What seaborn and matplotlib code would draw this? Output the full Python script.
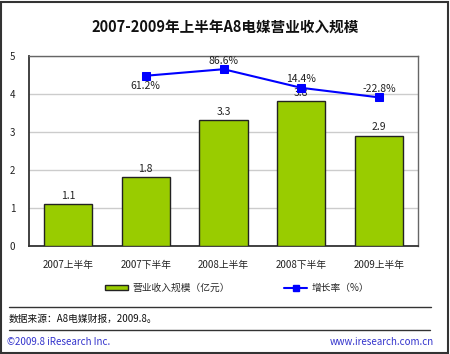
import seaborn as sns
import matplotlib.pyplot as plt
import pandas as pd
from matplotlib.patches import Patch, Rectangle
from matplotlib.lines import Line2D

# dados do gráfico
periodos = ["2007上半年", "2007下半年", "2008上半年", "2008下半年", "2009上半年"]
receita = [1.1, 1.8, 3.3, 3.8, 2.9]          # 营业收入规模（亿元）
crescimento = [None, 61.2, 86.6, 14.4, -22.8]  # 增长率（%）
rotulos_cresc = ["", "61.2%", "86.6%", "14.4%", "-22.8%"]

sns.set_style("white")
plt.rcParams["font.family"] = ["Noto Sans CJK SC", "DejaVu Sans"]

df = pd.DataFrame({"periodo": periodos, "receita": receita,
                   "pos": range(len(periodos)), "cresc": crescimento})

fig = plt.figure(figsize=(4.5, 3.54), dpi=100)
W, H = 450, 354
ax = fig.add_axes([29 / W, 1 - 245.7 / H, 389 / W, 190 / H])

# barras
sns.barplot(data=df, x="periodo", y="receita", color="#99CC00", edgecolor="#222222",
            linewidth=1, width=0.62, saturation=1, ax=ax, zorder=3)
ax.set_xlim(-0.5, 4.5)
ax.set_ylim(0, 5)
ax.set_yticks([0, 1, 2, 3, 4, 5])
ax.yaxis.grid(True, color="#CCCCCC", linewidth=1)
ax.set_axisbelow(True)
ax.set_xlabel("")
ax.set_ylabel("")
ax.tick_params(axis="y", length=0, pad=10, labelsize=7, colors="#222222")
ax.tick_params(axis="x", length=0, pad=10, labelsize=7, colors="#222222")
for s in ["left", "bottom"]:
    ax.spines[s].set_color("#333333")
    ax.spines[s].set_linewidth(1.3)
for s in ["top", "right"]:
    ax.spines[s].set_color("#666666")
    ax.spines[s].set_linewidth(1)

for i, v in enumerate(receita):
    ax.text(i, v + 0.08, f"{v}", ha="center", va="bottom", fontsize=7.5, color="#222222")

# linha de crescimento (eixo secundário)
ax2 = ax.twinx()
linha = df.dropna()
sns.lineplot(data=linha, x="pos", y="cresc", color="#0000FF", linewidth=1.5,
             marker="s", markersize=6, markeredgecolor="#0000FF", ax=ax2, zorder=4)
ax2.set_ylim(-598, 139)
ax2.set_yticks([])
ax2.set_ylabel("")
ax2.set_xlabel("")
for s in ax2.spines.values():
    s.set_visible(False)
for i, c in enumerate(crescimento):
    if c is None:
        continue
    if i == 1:
        ax2.text(i, c - 20, rotulos_cresc[i], ha="center", va="top", fontsize=7.5, color="#222222")
    else:
        ax2.text(i, c + 14, rotulos_cresc[i], ha="center", va="bottom", fontsize=7.5, color="#222222")

# título
fig.text(0.5, 1 - 27 / H, "2007-2009年上半年A8电媒营业收入规模", ha="center", va="center",
         fontsize=10.5, fontweight="bold", color="#111111")

# legenda
handles = [Patch(facecolor="#99CC00", edgecolor="#222222", linewidth=1),
           Line2D([0], [0], color="#0000FF", linewidth=1.5, marker="s", markersize=5)]
fig.legend(handles, ["营业收入规模（亿元）", "增长率（%）"], loc="center",
           bbox_to_anchor=(0.5 + 12 / W, 1 - 288 / H), ncol=2, frameon=False, fontsize=7,
           columnspacing=5.6, handlelength=2.4, handleheight=0.5, handletextpad=0.4)

# rodapé
fig.add_artist(Line2D([9 / W, 431 / W], [1 - 306.5 / H] * 2, color="#333333", linewidth=1))
fig.add_artist(Line2D([9 / W, 430 / W], [1 - 330 / H] * 2, color="#333333", linewidth=1))
fig.text(9 / W, 1 - 319 / H, "数据来源：A8电媒财报，2009.8。", ha="left", va="center",
         fontsize=7, color="#111111")
fig.text(7 / W, 1 - 342 / H, "©2009.8 iResearch Inc.", ha="left", va="center",
         fontsize=7, color="#3333CC")
fig.text(434 / W, 1 - 342 / H, "www.iresearch.com.cn", ha="right", va="center",
         fontsize=7, color="#3333CC")

# moldura externa
fig.add_artist(Rectangle((1 / W, 1 / H), 447 / W, 351 / H, fill=False,
                         edgecolor="#333333", linewidth=1.5, transform=fig.transFigure))

fig.savefig("out.png", dpi=100)
